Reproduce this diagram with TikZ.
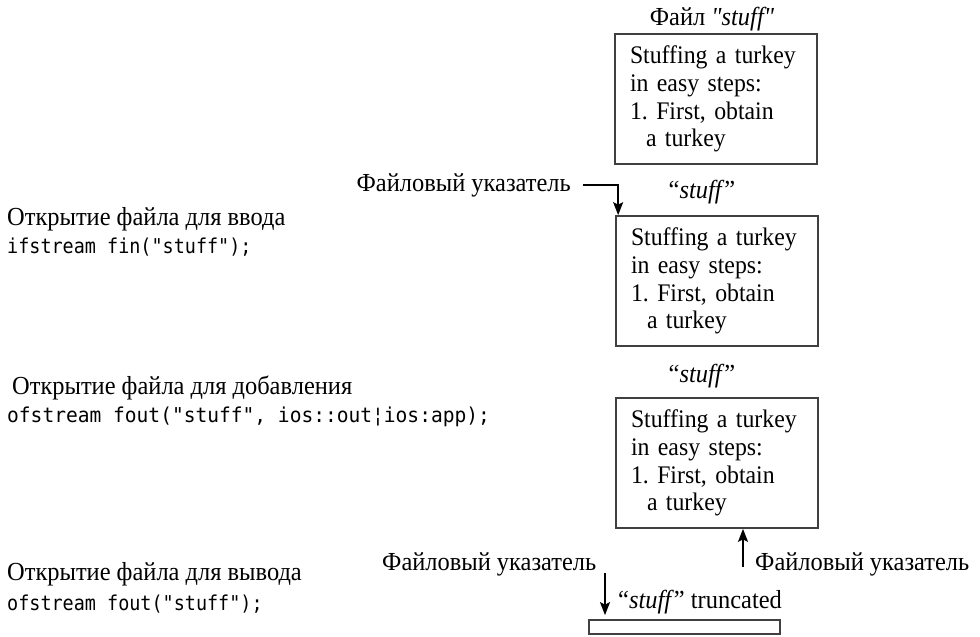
\documentclass[tikz,border=0pt]{standalone}
\usepackage{fontspec}
\setmainfont{Liberation Serif}[FakeStretch=0.94, Ligatures=TeXOff]
\setmonofont{DejaVu Sans Mono}[FakeStretch=0.9]
\usetikzlibrary{arrows.meta, positioning}
\newcommand{\turkeytext}{Stuffing a turkey\\in easy steps:\\1.\ First, obtain\\\hspace*{16pt}a turkey}

\begin{document}
\begin{tikzpicture}[x=1pt, y=-1pt,
    filebox/.style={rectangle, draw=black!75, line width=1.7pt,
                    minimum height=130pt, text width=172pt, inner xsep=15pt,
                    align=left, font=\fontsize{25.3}{27.7}\selectfont},
    lbl/.style={font=\fontsize{26}{28}\selectfont, inner sep=2pt},
    code/.style={font=\fontsize{20.5}{24}\selectfont\ttfamily, inner sep=0pt},
    arr/.style={-{Stealth[length=13pt, width=10pt, inset=2.5pt]}, line width=1.5pt}
  ]
    \useasboundingbox (0,0) rectangle (980,637);

    % the three copies of the file
    \node[filebox] (box1) at (716,99) {\turkeytext};
    \node[filebox] (box2) at (717,281) {\turkeytext};
    \node[filebox] (box3) at (717,463) {\turkeytext};
    \node[rectangle, draw=black!75, line width=1.7pt, minimum width=191pt,
          minimum height=14pt, inner sep=0pt] (trunc) at (684.5,627) {};

    \node[lbl, anchor=base] (name1) at (712,25) {Файл \textit{"stuff"}};
    \node[lbl, anchor=base] (name2) at (702,198) {“\textit{stuff}”};
    \node[lbl, anchor=base] (name3) at (702,382) {“\textit{stuff}”};
    \node[lbl, anchor=base west] (name4) at (616,608) {“\textit{stuff}” truncated};

    % opening modes
    \node[lbl, anchor=base west] (openIn) at (5,225) {Открытие файла для ввода};
    \node[code, anchor=base west] (codeIn) at (7,253) {ifstream fin("stuff");};
    \node[lbl, anchor=base west] (openApp) at (10,394) {Открытие файла для добавления};
    \node[code, anchor=base west] (codeApp) at (7,422)
      {\scalebox{1.06}[1]{ofstream fout("stuff", ios::out¦ios:app);}};
    \node[lbl, anchor=base west] (openOut) at (5,580) {Открытие файла для вывода};
    \node[code, anchor=base west] (codeOut) at (7,610) {ofstream fout("stuff");};

    % file pointers
    \node[lbl, anchor=base east] (ptrA) at (573,191) {Файловый указатель};
    \node[lbl, anchor=base west] (ptrB) at (753,570) {Файловый указатель};
    \node[lbl, anchor=base west] (ptrC) at (380,570) {Файловый указатель};
    \coordinate (tailB) at (743,567);
    \coordinate (tailC) at (605,573);

    \draw[arr] ([xshift=10pt]ptrA.east) -| ([xshift=3pt]box2.north west);
    \draw[arr] (tailB) -- (tailB |- box3.south);
    \draw[arr, shorten >=4pt] (tailC) -- (tailC |- trunc.north);
  \end{tikzpicture}
\end{document}
